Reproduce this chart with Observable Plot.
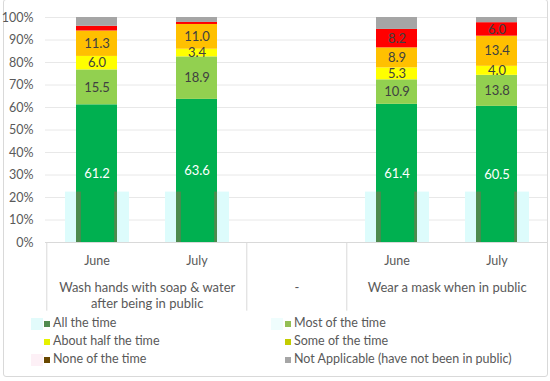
<!DOCTYPE html>
<html>
<head>
<meta charset="utf-8">
<script src="https://cdn.jsdelivr.net/npm/d3@7"></script>
<script src="https://cdn.jsdelivr.net/npm/@observablehq/plot@0.6"></script>
<style>
  html, body { margin: 0; padding: 0; background: #fff; }
  body { width: 550px; height: 381px; position: relative; overflow: hidden; font-family: Lato, "Open Sans", sans-serif; color: #595959; }
  #frame { position: absolute; left: 3px; top: -1px; width: 545px; height: 378px; box-sizing: border-box; border: 1px solid #d9d9d9; border-radius: 3px; }
  #chart { position: absolute; left: 0; top: 0; }
  .lg { position: absolute; font-size: 12.5px; line-height: 14px; white-space: nowrap; }
  .sw { position: absolute; width: 6px; height: 6px; }
  .ghost { position: absolute; width: 12px; height: 12px; }
</style>
</head>
<body>
<div id="frame"></div>
<div id="chart"></div>
<div id="legend"></div>
<script>
// ---- data ----
const slots = ["w-jun", "w-jul", "gap", "m-jun", "m-jul"];
const monthLabels = ["June", "July", "", "June", "July"];
// group labels: text, first slot of the group, number of slots spanned
const groupLabels = ["Wash hands with soap & water\nafter being in public", "-", "Wear a mask when in public"];
const groupAnchor = ["w-jun", "gap", "m-jun"];
const groupSpan = [2, 1, 2];
const separators = ["w-jun", "gap", "m-jun"];

const seriesNames = ["All the time", "Most of the time", "About half the time", "Some of the time", "None of the time", "Not Applicable (have not been in public)"];
const allTime       = [61.2, 63.6, null, 61.4, 60.5];
const mostTime      = [15.5, 18.9, null, 10.9, 13.8];
const halfTime      = [6.0, 3.4, null, 5.3, 4.0];
const someTime      = [11.3, 11.0, null, 8.9, 13.4];
const noneTime      = [2.1, 0.9, null, 8.2, 6.0];
const notApplicable = [3.9, 2.2, null, 5.3, 2.3];
const artifactTop   = [22.4, 22.4, null, 22.4, 22.4];

const yTicks = [0, 10, 20, 30, 40, 50, 60, 70, 80, 90, 100];

const barColors = ["#00b050", "#92d050", "#ffff00", "#ffc000", "#ff0000", "#a5a5a5"];
const legendColors = ["#4f8b4f", "#93bf55", "#e6f200", "#c3cc00", "#694700", "#a6a6a6"];

// ---- build table ----
const seriesValues = [allTime, mostTime, halfTime, someTime, noneTime, notApplicable];
const rows = [];
slots.forEach((s, i) => {
  seriesValues.forEach((vals, k) => {
    if (vals[i] != null) rows.push({slot: s, series: seriesNames[k], value: vals[i], k});
  });
});
const artifacts = slots.map((s, i) => ({slot: s, top: artifactTop[i]})).filter(d => d.top != null);
const groups = groupLabels.map((t, i) => ({text: t, slot: groupAnchor[i], span: groupSpan[i]}));

const W = 550, H = 312, mL = 45, mR = 3, mT = 17, mB = 70;
const step = (W - mL - mR) / slots.length;
const padInner = 0.59;
const bw = step * (1 - padInner);

const showLabel = d => d.k < 5 && d.value >= 3;

const groupText = (data, dx) => Plot.text(data, {x: "slot", text: "text", frameAnchor: "bottom", lineAnchor: "top", dx, dy: 37, lineHeight: 1.3, fontSize: 13, fill: "#595959"});

const plot = Plot.plot({
  width: W, height: H,
  marginLeft: mL, marginRight: mR, marginTop: mT, marginBottom: mB,
  style: {fontFamily: "Lato, 'Open Sans', sans-serif", fontSize: "12px", color: "#595959", background: "transparent", overflow: "visible"},
  x: {domain: slots, paddingInner: padInner, paddingOuter: padInner / 2, axis: null},
  y: {domain: [0, 100], axis: null},
  color: {domain: seriesNames, range: barColors},
  marks: [
    Plot.gridY(yTicks, {stroke: "#e8e8e8", strokeOpacity: 1}),
    Plot.axisY({ticks: yTicks, tickSize: 0, tickPadding: 12, tickFormat: d => d + "%", fontSize: 12.5, fill: "#595959", label: null}),
    Plot.barY(artifacts, {x: "slot", y: "top", fill: "#ddfcfc", insetLeft: -11, insetRight: -12}),
    Plot.barY(rows, {x: "slot", y: "value", fill: "series"}),
    Plot.barY(artifacts, {x: "slot", y: "top", fill: "#4e8a4e", insetRight: bw - 5}),
    Plot.barY(artifacts, {x: "slot", y: "top", fill: "#4e8a4e", insetLeft: bw - 3}),
    Plot.ruleY([0], {stroke: "#d9d9d9"}),
    Plot.ruleX(separators, {x: d => d, dx: -step / 2, y1: 0, y2: -30.5, stroke: "#d9d9d9"}),
    Plot.text(rows, Plot.stackY({x: "slot", y: "value", z: "series", text: d => (d.k === 0 && showLabel(d)) ? d.value.toFixed(1) : null, fill: "white", fontSize: 13})),
    Plot.text(rows, Plot.stackY({x: "slot", y: "value", z: "series", text: d => (d.k > 0 && showLabel(d)) ? d.value.toFixed(1) : null, fill: "#404040", fontSize: 13})),
    Plot.axisX({tickSize: 0, tickPadding: 14, tickFormat: d => monthLabels[slots.indexOf(d)], fontSize: 12.5, fill: "#595959", label: null}),
    groupText(groups.filter(g => g.span === 2), step / 2),
    groupText(groups.filter(g => g.span === 1), 0)
  ]
});
document.getElementById("chart").appendChild(plot);

// ---- legend ----
const legend = document.getElementById("legend");
const colX = [44, 285];
const rowY = [324, 342, 360];
seriesNames.forEach((name, i) => {
  const col = i % 2, row = Math.floor(i / 2);
  const sw = document.createElement("div");
  sw.className = "sw";
  sw.style.left = colX[col] + "px";
  sw.style.top = (rowY[row] - 3) + "px";
  sw.style.background = legendColors[i];
  legend.appendChild(sw);
  const t = document.createElement("div");
  t.className = "lg";
  t.style.left = (colX[col] + 9) + "px";
  t.style.top = (rowY[row] - 8) + "px";
  t.textContent = name;
  legend.appendChild(t);
});
// faint ghost swatches seen in the reference legend
[["#e2fbfb", 31, 318], ["#fdf0f6", 31, 354], ["#effdfd", 271, 318]].forEach(([c, x, y]) => {
  const g = document.createElement("div");
  g.className = "ghost";
  g.style.left = x + "px"; g.style.top = y + "px"; g.style.background = c;
  legend.insertBefore(g, legend.firstChild);
});
</script>
</body>
</html>
